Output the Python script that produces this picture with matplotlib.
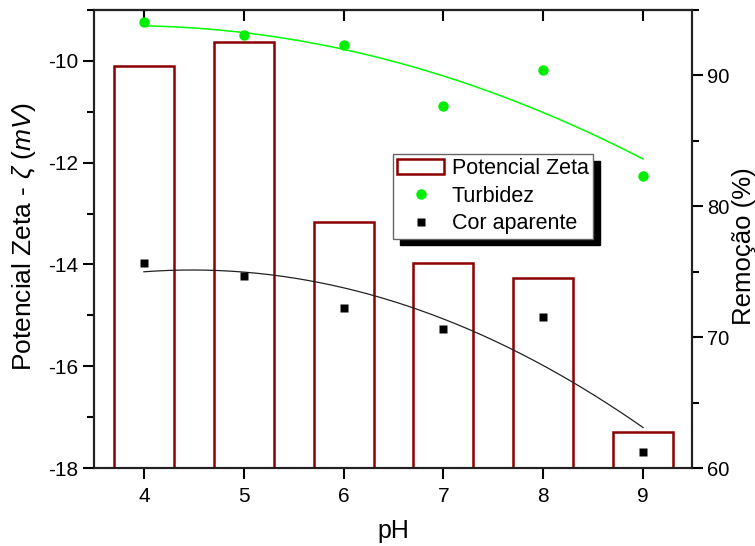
import numpy as np
import matplotlib.pyplot as plt
from matplotlib.ticker import MultipleLocator

plt.rcParams["font.family"] = ["Liberation Sans", "DejaVu Sans"]
plt.rcParams["mathtext.fontset"] = "custom"
plt.rcParams["mathtext.rm"] = "Liberation Sans"
plt.rcParams["mathtext.it"] = "Liberation Sans:italic"
plt.rcParams["axes.unicode_minus"] = False

ph = [4, 5, 6, 7, 8, 9]
zeta = [-10.10, -9.63, -13.16, -13.97, -14.27, -17.29]
turbidez = [94.05, 93.08, 92.29, 87.63, 90.40, 82.34]
cor_aparente = [75.69, 74.70, 72.25, 70.62, 71.54, 61.25]

W, H = 755, 546
fig = plt.figure(figsize=(W / 100, H / 100), dpi=100)
ax = fig.add_axes([94 / W, 1 - 468 / H, 598 / W, 458 / H])
ax2 = ax.twinx()

bottom = -18
heights = np.array(zeta) - bottom
bars = ax.bar(ph, heights, bottom=bottom, width=0.6, facecolor="white",
              edgecolor="#8b0000", linewidth=1.8, label="Potencial Zeta", zorder=2)

# quadratic fits, like the original software does
xf = np.linspace(4, 9, 200)
fit_t = np.polyval(np.polyfit(ph, turbidez, 2), xf)
fit_c = np.polyval(np.polyfit(ph, cor_aparente, 2), xf)

ax2.plot(xf, fit_t, color="#00ff00", lw=1.1, zorder=3)
ax2.plot(xf, fit_c, color="#222222", lw=0.9, zorder=3)
ax2.plot(ph, turbidez, "o", color="#00ee00", ms=7.5, mec="none", label="Turbidez", zorder=4)
ax2.plot(ph, cor_aparente, "s", color="black", ms=6.3, mec="none", label="Cor aparente", zorder=4)

ax.set_xlim(3.5, 9.49)
ax.set_ylim(-18, -9)
ax2.set_ylim(60, 95)

ax.set_xticks(ph)
ax.yaxis.set_major_locator(MultipleLocator(2))
ax.yaxis.set_minor_locator(MultipleLocator(1))
ax2.set_yticks([60, 70, 80, 90])
ax2.yaxis.set_minor_locator(MultipleLocator(5))

ax.tick_params(axis="x", which="both", direction="out", length=8, width=1.5,
               top=False, labelsize=15, pad=6)
ax.tick_params(axis="y", which="major", direction="out", length=8, width=1.5, labelsize=15)
ax.tick_params(axis="y", which="minor", direction="out", length=5, width=1.5)
ax2.tick_params(axis="y", which="major", direction="out", length=8, width=1.5,
                labelsize=14.5, pad=3)
ax2.tick_params(axis="y", which="minor", direction="out", length=5, width=1.5)

# top ticks point inward
sec = ax.secondary_xaxis("top")
sec.set_xticks(ph)
sec.tick_params(direction="in", length=8, width=1.5, labeltop=False)

for a in (ax, ax2):
    for s in a.spines.values():
        s.set_linewidth(1.5)
        s.set_color("#222222")
sec.spines["top"].set_linewidth(1.5)

fig.text(393 / W, 1 - 531 / H, "pH", fontsize=18, ha="center", va="center")
fig.text(24 / W, 1 - 236 / H, r"Potencial Zeta - $\zeta$ $(mV)$", fontsize=19,
         rotation=90, ha="center", va="center")
fig.text(744 / W, 1 - 246 / H, "Remoção (%)", fontsize=18.5,
         rotation=90, ha="center", va="center")

handles = [bars] + ax2.get_lines()[2:]
leg = ax2.legend(handles, ["Potencial Zeta", "Turbidez", "Cor aparente"],
                 loc="upper left", bbox_to_anchor=(0.4995, 0.6856), fontsize=15.5,
                 frameon=True, fancybox=False,
                 shadow={"color": "black", "alpha": 1, "ox": 5, "oy": -5},
                 borderpad=0.2, labelspacing=0.3, handlelength=2.2, handletextpad=0.35,
                 borderaxespad=0)
leg.get_frame().set_edgecolor("#666666")
leg.get_frame().set_linewidth(1)

fig.savefig("out.png", dpi=100)
